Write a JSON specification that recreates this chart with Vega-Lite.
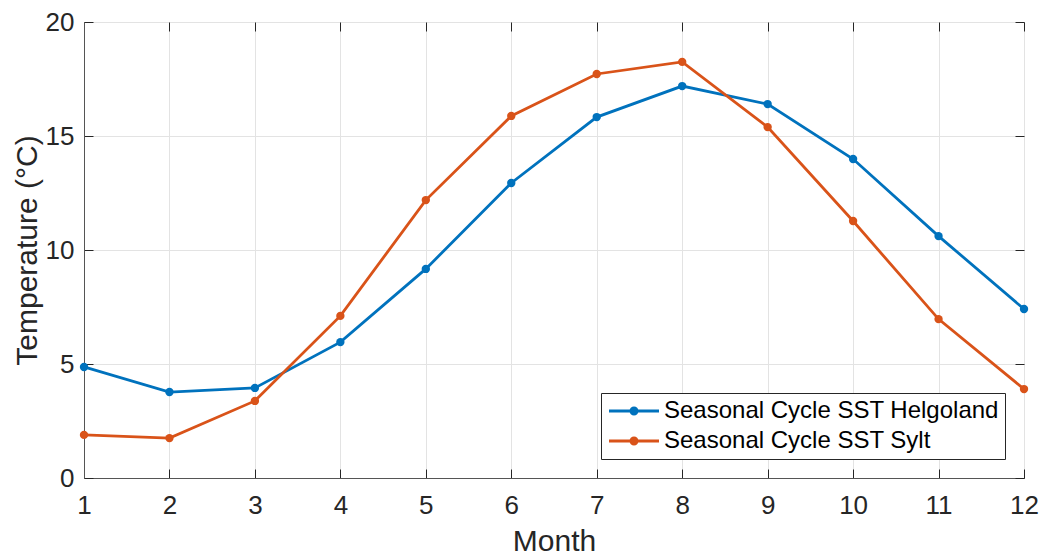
{
  "$schema": "https://vega.github.io/schema/vega-lite/v6.json",
  "width": 940,
  "height": 456,
  "autosize": {"type": "none"},
  "padding": {"left": 84, "top": 22, "right": 17, "bottom": 77},
  "background": "white",
  "config": {
    "view": {"stroke": "#9a9a9a", "strokeWidth": 1},
    "font": "Liberation Sans",
    "axis": {
      "labelFont": "Liberation Sans",
      "titleFont": "Liberation Sans",
      "labelColor": "#262626",
      "titleColor": "#262626",
      "titleFontWeight": "normal",
      "labelFontSize": 26,
      "titleFontSize": 30,
      "labelFlush": false,
      "tickColor": "#262626",
      "tickSize": -9,
      "tickWidth": 1,
      "domainColor": "#555555",
      "gridColor": "#e3e3e3",
      "gridWidth": 1
    }
  },
  "data": {
    "values": [
      {"month": 1, "temp": 4.87, "series": "Seasonal Cycle SST Helgoland"},
      {"month": 2, "temp": 3.77, "series": "Seasonal Cycle SST Helgoland"},
      {"month": 3, "temp": 3.95, "series": "Seasonal Cycle SST Helgoland"},
      {"month": 4, "temp": 5.96, "series": "Seasonal Cycle SST Helgoland"},
      {"month": 5, "temp": 9.17, "series": "Seasonal Cycle SST Helgoland"},
      {"month": 6, "temp": 12.94, "series": "Seasonal Cycle SST Helgoland"},
      {"month": 7, "temp": 15.83, "series": "Seasonal Cycle SST Helgoland"},
      {"month": 8, "temp": 17.19, "series": "Seasonal Cycle SST Helgoland"},
      {"month": 9, "temp": 16.4, "series": "Seasonal Cycle SST Helgoland"},
      {"month": 10, "temp": 13.99, "series": "Seasonal Cycle SST Helgoland"},
      {"month": 11, "temp": 10.61, "series": "Seasonal Cycle SST Helgoland"},
      {"month": 12, "temp": 7.41, "series": "Seasonal Cycle SST Helgoland"},
      {"month": 1, "temp": 1.89, "series": "Seasonal Cycle SST Sylt"},
      {"month": 2, "temp": 1.75, "series": "Seasonal Cycle SST Sylt"},
      {"month": 3, "temp": 3.38, "series": "Seasonal Cycle SST Sylt"},
      {"month": 4, "temp": 7.11, "series": "Seasonal Cycle SST Sylt"},
      {"month": 5, "temp": 12.19, "series": "Seasonal Cycle SST Sylt"},
      {"month": 6, "temp": 15.88, "series": "Seasonal Cycle SST Sylt"},
      {"month": 7, "temp": 17.72, "series": "Seasonal Cycle SST Sylt"},
      {"month": 8, "temp": 18.25, "series": "Seasonal Cycle SST Sylt"},
      {"month": 9, "temp": 15.39, "series": "Seasonal Cycle SST Sylt"},
      {"month": 10, "temp": 11.27, "series": "Seasonal Cycle SST Sylt"},
      {"month": 11, "temp": 6.97, "series": "Seasonal Cycle SST Sylt"},
      {"month": 12, "temp": 3.9, "series": "Seasonal Cycle SST Sylt"}
    ]
  },
  "layer": [
    {
      "mark": {"type": "line", "strokeWidth": 2.8},
      "encoding": {
        "x": {
          "field": "month", "type": "quantitative",
          "scale": {"domain": [1, 12], "nice": false, "zero": false},
          "axis": {
            "title": "Month",
            "values": [1, 2, 3, 4, 5, 6, 7, 8, 9, 10, 11, 12],
            "format": "d",
            "labelPadding": 23,
            "titlePadding": 8,
            "grid": true
          }
        },
        "y": {
          "field": "temp", "type": "quantitative",
          "scale": {"domain": [0, 20], "nice": false},
          "axis": {
            "title": "Temperature (°C)",
            "values": [0, 5, 10, 15, 20],
            "format": "d",
            "labelPadding": 19,
            "titlePadding": 3,
            "grid": true
          }
        },
        "color": {
          "field": "series", "type": "nominal",
          "scale": {"domain": ["Seasonal Cycle SST Helgoland", "Seasonal Cycle SST Sylt"], "range": ["#0072BD", "#D95319"]},
          "legend": {
            "title": null,
            "orient": "none",
            "legendX": 517,
            "legendY": 371,
            "direction": "vertical",
            "fillColor": "white",
            "strokeColor": "#262626",
            "cornerRadius": 0,
            "padding": 6,
            "labelFont": "Liberation Sans",
            "labelFontSize": 24,
            "labelColor": "#000000",
            "labelLimit": 600,
            "labelOffset": 33,
            "rowPadding": 6,
            "symbolSize": 100,
            "symbolType": "M-2,0H8 M2.38,0A0.62,0.62 0 1,0 3.62,0A0.62,0.62 0 1,0 2.38,0 M2.68,0A0.32,0.32 0 1,0 3.32,0A0.32,0.32 0 1,0 2.68,0",
            "symbolStrokeWidth": 2.8,
            "symbolOpacity": 1
          }
        }
      }
    },
    {
      "mark": {"type": "point", "filled": true, "size": 70, "opacity": 1},
      "encoding": {
        "x": {"field": "month", "type": "quantitative", "scale": {"domain": [1, 12], "nice": false, "zero": false}, "axis": null},
        "y": {"field": "temp", "type": "quantitative", "scale": {"domain": [0, 20], "nice": false}, "axis": null},
        "color": {"field": "series", "type": "nominal"}
      }
    },
    {
      "mark": {"type": "point", "opacity": 0},
      "encoding": {
        "x": {
          "field": "month", "type": "quantitative",
          "scale": {"domain": [1, 12], "nice": false, "zero": false},
          "axis": {"orient": "top", "title": null, "labels": false, "grid": false, "domain": false, "values": [1, 2, 3, 4, 5, 6, 7, 8, 9, 10, 11, 12]}
        },
        "y": {
          "field": "temp", "type": "quantitative",
          "scale": {"domain": [0, 20], "nice": false},
          "axis": {"orient": "right", "title": null, "labels": false, "grid": false, "domain": false, "values": [0, 5, 10, 15, 20]}
        }
      }
    }
  ],
  "resolve": {"axis": {"x": "independent", "y": "independent"}}
}
